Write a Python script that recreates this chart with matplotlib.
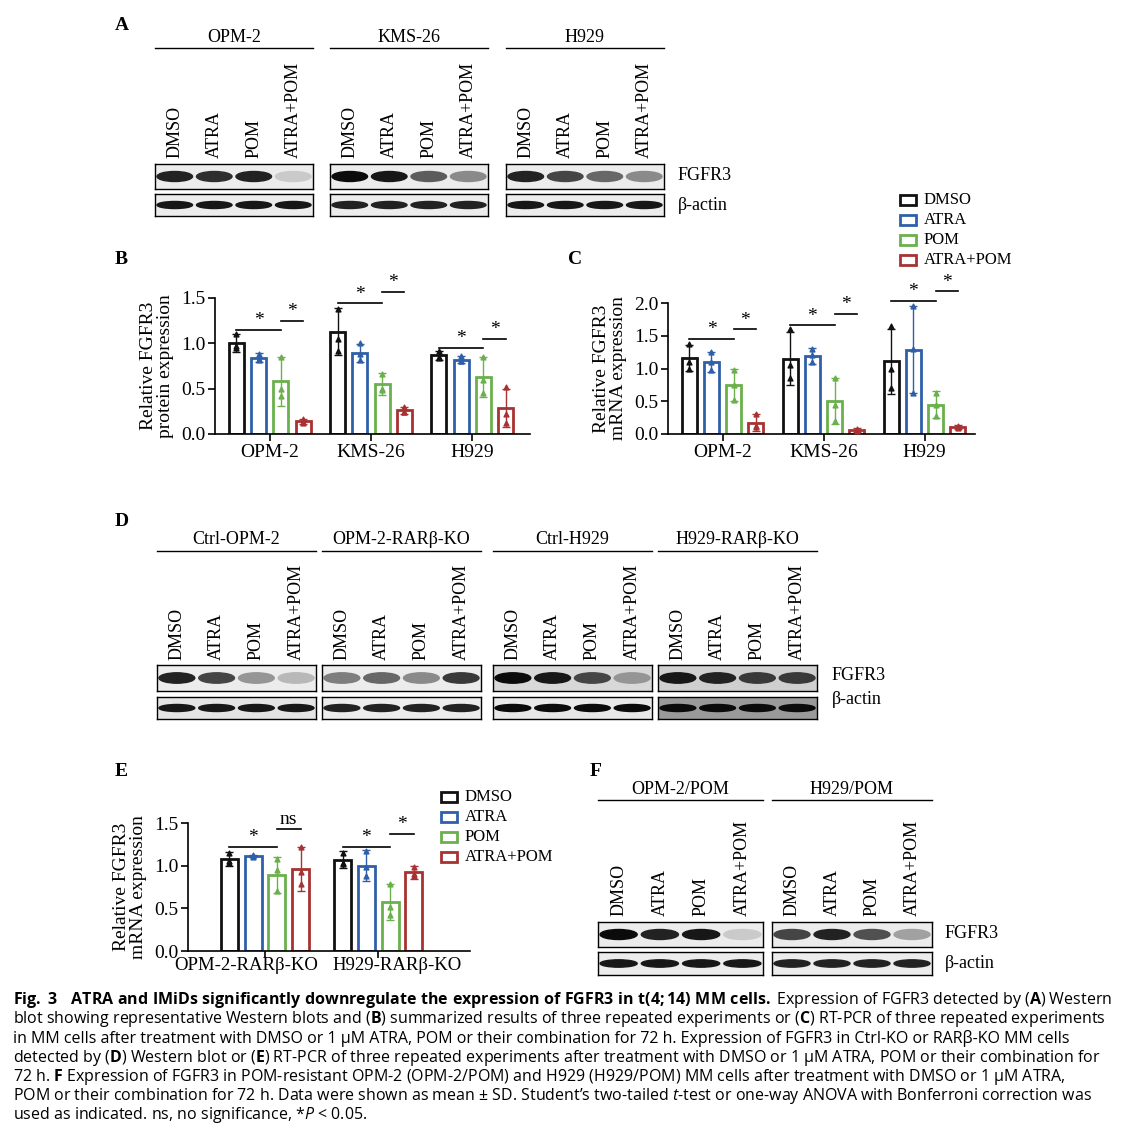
import matplotlib
matplotlib.use("Agg")
import matplotlib.pyplot as plt
from matplotlib.patches import Ellipse, Rectangle
import matplotlib.transforms as mtrans
import numpy as np

plt.rcParams['font.family'] = ['Liberation Serif', 'DejaVu Serif']
plt.rcParams['mathtext.fontset'] = 'custom'
plt.rcParams['mathtext.bf'] = 'Open Sans:bold'
plt.rcParams['mathtext.rm'] = 'Open Sans'
plt.rcParams['mathtext.it'] = 'Open Sans:italic'

W, H = 1136, 1138
fig = plt.figure(figsize=(W/100, H/100), dpi=100)
fig.patch.set_facecolor('white')
def fx(x): return x/W
def fy(y): return 1-y/H

treat = ["DMSO", "ATRA", "POM", "ATRA+POM"]
colors = ["#111111", "#2f5fa8", "#6ab04c", "#a83232"]

# ---- Data ----
A_groups = ["OPM-2", "KMS-26", "H929"]
A_fgfr3 = [[0.85, 0.8, 0.85, 0.12], [0.95, 0.9, 0.6, 0.4], [0.85, 0.7, 0.55, 0.4]]
A_actin = [[0.9]*4, [0.85]*4, [0.9]*4]

D_groups = ["Ctrl-OPM-2", "OPM-2-RARβ-KO", "Ctrl-H929", "H929-RARβ-KO"]
D_fgfr3 = [[0.85, 0.7, 0.35, 0.2], [0.45, 0.55, 0.4, 0.75], [0.95, 0.9, 0.7, 0.35], [0.9, 0.85, 0.75, 0.75]]
D_actin = [[0.9]*4, [0.85]*4, [0.95]*4, [0.95]*4]

F_groups = ["OPM-2/POM", "H929/POM"]
F_fgfr3 = [[0.95, 0.85, 0.9, 0.12], [0.7, 0.85, 0.65, 0.3]]
F_actin = [[0.9]*4, [0.85]*4]

B_cells = ["OPM-2", "KMS-26", "H929"]
B_mean = [[1.00, 0.84, 0.58, 0.14], [1.13, 0.89, 0.55, 0.26], [0.87, 0.82, 0.63, 0.29]]
B_sd = [[0.10, 0.05, 0.27, 0.03], [0.26, 0.10, 0.12, 0.04], [0.05, 0.04, 0.22, 0.21]]
B_pts = [[[1.1, 0.97, 0.95], [0.88, 0.82, 0.83], [0.85, 0.5, 0.42], [0.16, 0.13, 0.12]],
         [[1.38, 1.05, 0.92], [1.0, 0.88, 0.82], [0.66, 0.5, 0.49], [0.3, 0.24, 0.24]],
         [[0.92, 0.85, 0.84], [0.86, 0.8, 0.8], [0.85, 0.6, 0.45], [0.52, 0.22, 0.12]]]
B_sig = [(0, 0, 2, 1.15), (0, 2, 3, 1.25), (1, 0, 2, 1.44), (1, 2, 3, 1.57), (2, 0, 2, 0.95), (2, 2, 3, 1.05)]

C_cells = ["OPM-2", "KMS-26", "H929"]
C_mean = [[1.16, 1.10, 0.75, 0.17], [1.15, 1.19, 0.50, 0.06], [1.11, 1.29, 0.45, 0.10]]
C_sd = [[0.20, 0.15, 0.25, 0.13], [0.40, 0.12, 0.35, 0.03], [0.50, 0.67, 0.20, 0.03]]
C_pts = [[[1.37, 1.1, 1.0], [1.25, 1.1, 0.97], [0.98, 0.75, 0.52], [0.3, 0.12, 0.1]],
         [[1.6, 1.05, 0.85], [1.3, 1.2, 1.1], [0.85, 0.45, 0.2], [0.08, 0.06, 0.05]],
         [[1.65, 1.0, 0.7], [1.96, 1.3, 0.62], [0.62, 0.45, 0.28], [0.12, 0.1, 0.09]]]
C_sig = [(0, 0, 2, 1.45), (0, 2, 3, 1.6), (1, 0, 2, 1.66), (1, 2, 3, 1.83), (2, 0, 2, 2.03), (2, 2, 3, 2.18)]

E_cells = ["OPM-2-RARβ-KO", "H929-RARβ-KO"]
E_mean = [[1.08, 1.11, 0.89, 0.96], [1.07, 1.00, 0.57, 0.92]]
E_sd = [[0.08, 0.01, 0.21, 0.26], [0.10, 0.18, 0.21, 0.08]]
E_pts = [[[1.15, 1.05, 1.03], [1.12, 1.11, 1.1], [1.08, 0.95, 0.7], [1.22, 0.93, 0.78]],
         [[1.15, 1.03, 1.02], [1.17, 0.98, 0.88], [0.78, 0.52, 0.42], [0.98, 0.9, 0.88]]]
E_sig = [(0, 0, 2, 1.22, "*"), (0, 2, 3, 1.43, "ns"), (1, 0, 2, 1.22, "*"), (1, 2, 3, 1.37, "*")]

# ---- Blots ----
def blot(x0, x1, y0, y1, vals, bg="#ececec", thick=0.5):
    ax = fig.add_axes([fx(x0), fy(y1), fx(x1)-fx(x0), (y1-y0)/H])
    ax.set_xlim(0, 4); ax.set_ylim(0, 1)
    ax.set_facecolor(bg)
    ax.set_xticks([]); ax.set_yticks([])
    for s in ax.spines.values():
        s.set_linewidth(1.0)
    for i, v in enumerate(vals):
        g = 1 - v
        ax.add_patch(Ellipse((i+0.5, 0.5), 0.9, thick, color=(g*0.9, g*0.9, g*0.9)))
    return ax

def blot_group(x0, x1, ytitle, title, fg, ac, yb, ya, bgf="#ececec", bga="#ececec", lane_bottom=None):
    fig.text(fx((x0+x1)/2), fy(ytitle), title, ha='center', va='center', fontsize=13)
    fig.add_artist(plt.Line2D([fx(x0), fx(x1)], [fy(ytitle+11)]*2, color='black', lw=1))
    w = (x1-x0)/4
    for i, t in enumerate(treat):
        fig.text(fx(x0+w*(i+0.5)), fy(lane_bottom), t, rotation=90, ha='center', va='bottom', fontsize=13)
    blot(x0, x1, yb[0], yb[1], fg, bgf, 0.4)
    blot(x0, x1, ya[0], ya[1], ac, bga, 0.32)

fig.text(fx(115), fy(25), "A", fontsize=14, fontweight='bold', ha='left', va='center')
for (x0, x1), t, f, a in zip([(155, 313), (330, 488), (506, 664)], A_groups, A_fgfr3, A_actin):
    blot_group(x0, x1, 37, t, f, a, (164, 189), (194, 216), lane_bottom=158)
fig.text(fx(678), fy(176), "FGFR3", fontsize=13, va='center')
fig.text(fx(678), fy(205), "β-actin", fontsize=13, va='center')

fig.text(fx(115), fy(522), "D", fontsize=14, fontweight='bold', ha='left', va='center')
bgs = [("#ececec", "#e4e4e4"), ("#ececec", "#ececec"), ("#d8d8d8", "#e8e8e8"), ("#cfcfcf", "#9a9a9a")]
for (x0, x1), t, f, a, (bf, ba) in zip([(157, 316), (322, 481), (493, 652), (658, 817)], D_groups, D_fgfr3, D_actin, bgs):
    blot_group(x0, x1, 540, t, f, a, (665, 691), (697, 719), bf, ba, lane_bottom=660)
fig.text(fx(832), fy(676), "FGFR3", fontsize=13, va='center')
fig.text(fx(832), fy(699), "β-actin", fontsize=13, va='center')

fig.text(fx(590), fy(772), "F", fontsize=14, fontweight='bold', ha='left', va='center')
for (x0, x1), t, f, a in zip([(598, 763), (772, 932)], F_groups, F_fgfr3, F_actin):
    blot_group(x0, x1, 789, t, f, a, (922, 947), (952, 975), lane_bottom=916)
fig.text(fx(945), fy(934), "FGFR3", fontsize=13, va='center')
fig.text(fx(945), fy(963), "β-actin", fontsize=13, va='center')

# ---- Bar charts ----
def barchart(rect, cells, mean, sd, pts, sig, ylim, yticks, ylabel, xlim, pitch=0.22, bw=0.15, label_pos=None):
    x0, y0, x1, y1 = rect
    ax = fig.add_axes([fx(x0), fy(y1), fx(x1)-fx(x0), (y1-y0)/H])
    n = len(cells)
    offs = (np.arange(4) - 1.5) * pitch
    for ci in range(n):
        for ti in range(4):
            x = ci + offs[ti]
            ax.bar(x, mean[ci][ti], width=bw, facecolor='white', edgecolor=colors[ti], linewidth=2, zorder=2)
            ax.errorbar(x, mean[ci][ti], yerr=sd[ci][ti], color=colors[ti], capsize=3, lw=1, capthick=1, zorder=3)
            p = pts[ci][ti]
            ax.scatter([x]*3, p, marker='^', s=12, color=colors[ti], zorder=4)
    for s in sig:
        ci, a, b, y = s[:4]
        lab = s[4] if len(s) > 4 else "*"
        ax.plot([ci+offs[a], ci+offs[b]], [y, y], color='black', lw=1.2, clip_on=False)
        ax.text((2*ci+offs[a]+offs[b])/2, y + (ylim[1]*0.005 if lab == "*" else ylim[1]*0.01), lab,
                ha='center', va='bottom', fontsize=14, clip_on=False)
    ax.set_xlim(*xlim)
    ax.set_ylim(*ylim)
    ax.set_yticks(yticks)
    ax.set_yticklabels([f"{v:.1f}" for v in yticks], fontsize=14)
    ax.set_xticks(range(n))
    if label_pos is None:
        ax.set_xticklabels(cells, fontsize=14)
    else:
        ax.set_xticklabels([])
        tr = mtrans.blended_transform_factory(ax.transData, ax.transAxes)
        for c, p in zip(cells, label_pos):
            ax.text(p, -0.05, c, transform=tr, ha='center', va='top', fontsize=13.5)
    for sname in ['top', 'right']:
        ax.spines[sname].set_visible(False)
    ax.spines['left'].set_linewidth(1.2); ax.spines['bottom'].set_linewidth(1.2)
    ax.tick_params(width=1.2, length=5, pad=2)
    ax.set_ylabel(ylabel, fontsize=14, linespacing=1.0, labelpad=5)
    return ax

fig.text(fx(115), fy(260), "B", fontsize=14, fontweight='bold', ha='left', va='center')
barchart((215, 298, 530, 434), B_cells, B_mean, B_sd, B_pts, B_sig, (0, 1.5), [0, 0.5, 1.0, 1.5],
         "Relative FGFR3\nprotein expression", (-0.54, 2.57))
fig.text(fx(568), fy(260), "C", fontsize=14, fontweight='bold', ha='left', va='center')
barchart((668, 303, 975, 434), C_cells, C_mean, C_sd, C_pts, C_sig, (0, 2.0), [0, 0.5, 1.0, 1.5, 2.0],
         "Relative FGFR3\nmRNA expression", (-0.54, 2.5))
fig.text(fx(115), fy(772), "E", fontsize=14, fontweight='bold', ha='left', va='center')
barchart((188, 823, 470, 951), E_cells, E_mean, E_sd, E_pts, E_sig, (0, 1.5), [0, 0.5, 1.0, 1.5],
         "Relative FGFR3\nmRNA expression", (-0.68, 1.81), pitch=0.21, bw=0.15, label_pos=[-0.17, 1.17])

def legend(x, y, dy):
    for i, t in enumerate(treat):
        yy = y + i*dy
        fig.add_artist(Rectangle((fx(x), fy(yy+5)), fx(16), 10/H, facecolor='white', edgecolor=colors[i], lw=2))
        fig.text(fx(x+24), fy(yy), t, fontsize=12, va='center')
legend(900, 200, 20)
legend(441, 797, 20)

# ---- Caption ----
cap = [
    r"$\bf{Fig.\ 3\quad ATRA\ and\ IMiDs\ significantly\ downregulate\ the\ expression\ of\ FGFR3\ in\ t(4;14)\ MM\ cells.}$ Expression of FGFR3 detected by (" + r"$\bf{A}$" + ") Western",
    "blot showing representative Western blots and (" + r"$\bf{B}$" + ") summarized results of three repeated experiments or (" + r"$\bf{C}$" + ") RT-PCR of three repeated experiments",
    "in MM cells after treatment with DMSO or 1 μM ATRA, POM or their combination for 72 h. Expression of FGFR3 in Ctrl-KO or RARβ-KO MM cells",
    "detected by (" + r"$\bf{D}$" + ") Western blot or (" + r"$\bf{E}$" + ") RT-PCR of three repeated experiments after treatment with DMSO or 1 μM ATRA, POM or their combination for",
    "72 h. " + r"$\bf{F}$" + " Expression of FGFR3 in POM-resistant OPM-2 (OPM-2/POM) and H929 (H929/POM) MM cells after treatment with DMSO or 1 μM ATRA,",
    "POM or their combination for 72 h. Data were shown as mean ± SD. Student’s two-tailed " + r"$\it{t}$" + "-test or one-way ANOVA with Bonferroni correction was",
    "used as indicated. ns, no significance, *" + r"$\it{P}$" + " < 0.05.",
]
for i, line in enumerate(cap):
    fig.text(fx(13), fy(1000 + i*19.2), line, fontsize=11.5, family='Open Sans', va='center', ha='left')

fig.savefig("out.png", dpi=100)
